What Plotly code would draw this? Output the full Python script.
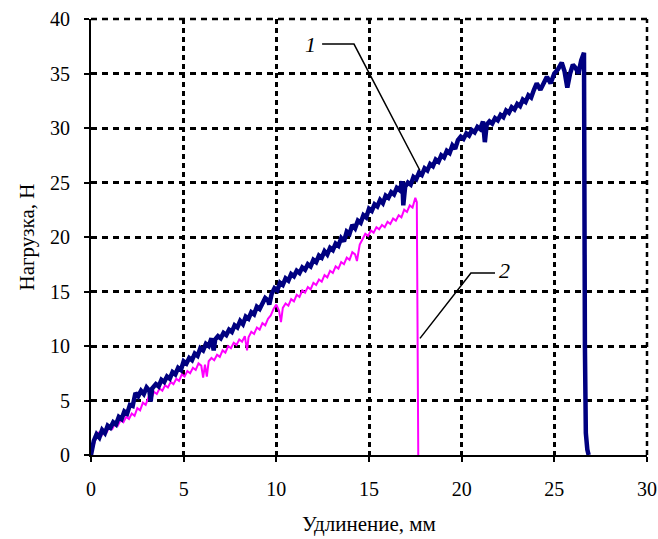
import plotly.graph_objects as go

# ---- data ----
navy_x = [0.00, 0.15, 0.30, 0.45, 0.60, 0.75, 0.90, 1.05, 1.20, 1.35, 1.50, 1.65, 1.80, 1.95, 2.10, 2.25,
          2.40, 2.55, 2.70, 2.85, 3.00, 3.15, 3.22, 3.30, 3.50, 3.65, 3.80, 3.95, 4.10, 4.25, 4.40, 4.55,
          4.70, 4.85, 5.00, 5.15, 5.30, 5.45, 5.60, 5.75, 5.90, 6.05, 6.20, 6.35, 6.50, 6.62, 6.70, 6.85,
          7.00, 7.15, 7.30, 7.45, 7.60, 7.75, 7.90, 8.05, 8.20, 8.35, 8.50, 8.65, 8.80, 8.95, 9.10, 9.25,
          9.40, 9.55, 9.62, 9.75, 9.90, 10.05, 10.20, 10.35, 10.50, 10.65, 10.80, 10.95, 11.10, 11.25,
          11.40, 11.55, 11.70, 11.85, 12.00, 12.15, 12.30, 12.45, 12.60, 12.75, 12.90, 13.05, 13.20, 13.35,
          13.50, 13.65, 13.80, 13.95, 14.10, 14.25, 14.40, 14.55, 14.70, 14.85, 15.00, 15.15, 15.30, 15.45,
          15.60, 15.75, 15.90, 16.05, 16.20, 16.35, 16.50, 16.65, 16.80, 16.85, 16.95, 17.10, 17.25, 17.40,
          17.55, 17.70, 17.85, 18.00, 18.15, 18.30, 18.45, 18.60, 18.75, 18.90, 19.05, 19.20, 19.35, 19.50,
          19.65, 19.80, 19.95, 20.10, 20.25, 20.40, 20.55, 20.70, 20.85, 21.00, 21.15, 21.25, 21.35, 21.50,
          21.65, 21.80, 21.95, 22.10, 22.25, 22.40, 22.55, 22.70, 22.85, 23.00, 23.15, 23.30, 23.45, 23.60,
          23.75, 23.90, 24.05, 24.25, 24.45, 24.60, 24.80, 25.00, 25.20, 25.40, 25.55, 25.70, 25.85, 26.00,
          26.15, 26.30, 26.45, 26.60, 26.65, 26.70, 26.78, 26.85]
navy_y = [0.0, 1.3, 1.9, 1.6, 2.3, 2.0, 2.7, 2.5, 3.0, 2.8, 3.5, 3.3, 4.0, 3.8, 4.6, 4.5,
          5.7, 5.4, 5.9, 5.6, 6.2, 5.9, 4.9, 6.1, 6.5, 6.3, 6.9, 6.7, 7.2, 7.0, 7.6, 7.4,
          8.0, 7.8, 8.6, 8.4, 8.9, 8.7, 9.3, 9.1, 9.8, 9.6, 10.2, 10.0, 10.7, 9.6, 10.6, 10.9,
          10.7, 11.2, 11.0, 11.5, 11.3, 11.9, 11.7, 12.3, 12.0, 12.7, 12.5, 13.1, 12.9, 13.6, 13.4, 14.0,
          14.4, 14.2, 13.8, 14.8, 15.3, 15.1, 15.8, 15.6, 16.2, 16.0, 16.6, 16.4, 16.9, 16.7,
          17.2, 17.0, 17.5, 17.3, 17.9, 17.7, 18.3, 18.1, 18.7, 18.4, 19.0, 18.8, 19.4, 19.2,
          19.9, 19.6, 20.5, 20.3, 21.1, 20.8, 21.5, 21.3, 22.0, 21.8, 22.6, 22.4, 23.0, 22.8,
          23.4, 23.1, 23.8, 23.6, 24.1, 23.9, 24.5, 24.3, 25.1, 22.9, 24.6, 25.0, 24.8, 25.5,
          25.3, 25.9, 25.7, 26.3, 26.1, 26.7, 26.5, 27.1, 26.9, 27.5, 27.3, 27.9, 27.7, 28.4,
          28.1, 28.9, 29.2, 29.0, 29.5, 29.3, 29.8, 29.6, 30.1, 29.9, 30.6, 28.7, 30.3, 30.6,
          30.4, 30.9, 30.7, 31.2, 31.0, 31.6, 31.4, 31.9, 31.7, 32.2, 32.0, 32.6, 32.4, 33.0,
          32.8, 33.5, 34.1, 33.5, 34.2, 34.7, 34.1, 35.0, 35.4, 36.0, 35.2, 33.7, 35.0, 35.8,
          35.5, 35.0, 36.2, 36.9, 10.0, 2.0, 0.5, 0.0]

magenta_x = [0.00, 0.10, 0.25, 0.40, 0.55, 0.70, 0.85, 1.00, 1.15, 1.30, 1.45, 1.60, 1.75, 1.90, 2.05,
             2.20, 2.35, 2.50, 2.65, 2.80, 2.95, 3.10, 3.25, 3.40, 3.55, 3.70, 3.85, 4.00, 4.15, 4.30,
             4.45, 4.60, 4.75, 4.90, 5.05, 5.20, 5.35, 5.50, 5.65, 5.80, 5.95, 6.05, 6.15, 6.25, 6.35,
             6.50, 6.65, 6.80, 6.95, 7.10, 7.25, 7.40, 7.55, 7.70, 7.85, 8.00, 8.15, 8.30, 8.42, 8.50,
             8.65, 8.80, 8.95, 9.10, 9.25, 9.40, 9.55, 9.70, 9.85, 10.00, 10.15, 10.25, 10.35, 10.50,
             10.65, 10.80, 10.95, 11.10, 11.25, 11.40, 11.55, 11.70, 11.85, 12.00, 12.15, 12.30, 12.45,
             12.60, 12.75, 12.90, 13.05, 13.20, 13.35, 13.50, 13.65, 13.80, 13.95, 14.10, 14.25, 14.35,
             14.50, 14.65, 14.80, 14.95, 15.10, 15.25, 15.40, 15.55, 15.70, 15.85, 16.00, 16.15, 16.30,
             16.45, 16.60, 16.75, 16.90, 17.05, 17.20, 17.35, 17.50, 17.58, 17.62, 17.66]
magenta_y = [0.0, 0.7, 1.5, 2.1, 1.7, 2.3, 2.1, 2.6, 2.4, 2.9, 2.7, 3.2, 3.0, 3.5, 3.3,
             3.8, 3.6, 4.3, 4.1, 4.8, 4.6, 5.3, 5.1, 5.8, 5.6, 6.1, 5.9, 6.4, 6.2, 6.7,
             6.5, 7.0, 6.8, 7.4, 7.2, 7.7, 7.5, 8.0, 7.8, 8.4, 8.2, 7.1, 8.3, 7.2, 8.6,
             8.9, 8.7, 9.2, 9.0, 9.6, 9.4, 10.0, 9.8, 10.3, 10.1, 10.6, 10.4, 10.9, 9.6, 10.8,
             11.3, 11.1, 11.7, 11.5, 12.1, 11.9, 12.5, 12.8, 13.4, 13.8, 13.2, 12.2, 13.5, 13.9,
             13.7, 14.3, 14.1, 14.7, 14.5, 15.1, 14.9, 15.4, 15.2, 15.8, 15.6, 16.1, 15.9,
             16.5, 16.3, 16.9, 16.7, 17.3, 17.1, 17.7, 17.5, 18.1, 17.9, 18.6, 18.4, 17.8,
             19.3, 19.8, 20.3, 20.1, 20.6, 20.4, 20.9, 20.7, 21.1, 20.9, 21.4, 21.2, 21.7,
             21.5, 22.0, 21.8, 22.5, 22.3, 22.9, 22.7, 23.6, 23.2, 10.0, -0.5]

x_ticks = [0, 5, 10, 15, 20, 25, 30]
y_ticks = [0, 5, 10, 15, 20, 25, 30, 35, 40]

label_texts = ["1", "2"]
label_x = [11.85, 22.3]
label_y = [37.7, 16.9]
leader1_x = [12.47, 14.19, 17.75]
leader1_y = [37.7, 37.7, 26.1]
leader2_x = [21.8, 20.5, 17.75]
leader2_y = [16.7, 16.7, 10.7]

FONT = "Liberation Serif, Times New Roman, serif"

fig = go.Figure()
fig.add_trace(go.Scatter(x=magenta_x, y=magenta_y, mode="lines",
                         line=dict(color="#FF00FF", width=2), showlegend=False))
fig.add_trace(go.Scatter(x=navy_x, y=navy_y, mode="lines",
                         line=dict(color="#000080", width=4.5), showlegend=False))
fig.add_trace(go.Scatter(x=leader1_x, y=leader1_y, mode="lines",
                         line=dict(color="black", width=1.5), showlegend=False))
fig.add_trace(go.Scatter(x=leader2_x, y=leader2_y, mode="lines",
                         line=dict(color="black", width=1.5), showlegend=False))

for t, lx, ly in zip(label_texts, label_x, label_y):
    fig.add_annotation(x=lx, y=ly, text="<i>" + t + "</i>", showarrow=False,
                       font=dict(family=FONT, size=22, color="black"),
                       xanchor="center", yanchor="middle")

# dotted gridlines on the top and right edges of the plot area
fig.add_shape(type="line", xref="paper", yref="paper", x0=0, x1=1, y0=1, y1=1,
              line=dict(color="black", width=2.5, dash="6px,5px"), layer="below")
fig.add_shape(type="line", xref="paper", yref="paper", x0=1, x1=1, y0=0, y1=1,
              line=dict(color="black", width=2.5, dash="5px,4px"), layer="below")

fig.update_layout(
    width=658, height=539,
    margin=dict(l=91, r=11, t=19, b=84),
    paper_bgcolor="white", plot_bgcolor="white",
    font=dict(family=FONT, size=20, color="black"),
)
fig.update_xaxes(range=[0, 30], tickvals=x_ticks, ticktext=[str(v) for v in x_ticks],
                 automargin=False,
                 showgrid=True, gridcolor="black", gridwidth=2.5, griddash="5px,4px",
                 showline=True, linecolor="black", linewidth=2, zeroline=False,
                 ticks="outside", ticklen=5, tickwidth=1.5, tickcolor="black",
                 ticklabelstandoff=10,
                 title=dict(text="Удлинение, мм", standoff=17,
                            font=dict(family=FONT, size=21)),
                 tickfont=dict(family=FONT, size=20))
fig.update_yaxes(range=[0, 40], tickvals=y_ticks, ticktext=[str(v) for v in y_ticks],
                 automargin=False,
                 showgrid=True, gridcolor="black", gridwidth=2.5, griddash="6px,5px",
                 showline=True, linecolor="black", linewidth=2, zeroline=False,
                 ticks="outside", ticklen=5, tickwidth=1.5, tickcolor="black",
                 ticklabelstandoff=10,
                 title=dict(text="Нагрузка, Н", standoff=10,
                            font=dict(family=FONT, size=21)),
                 tickfont=dict(family=FONT, size=20))

fig.write_html("out.html", config={"displayModeBar": False},
               post_script="document.body.style.margin='0px';document.body.style.overflow='hidden';")
